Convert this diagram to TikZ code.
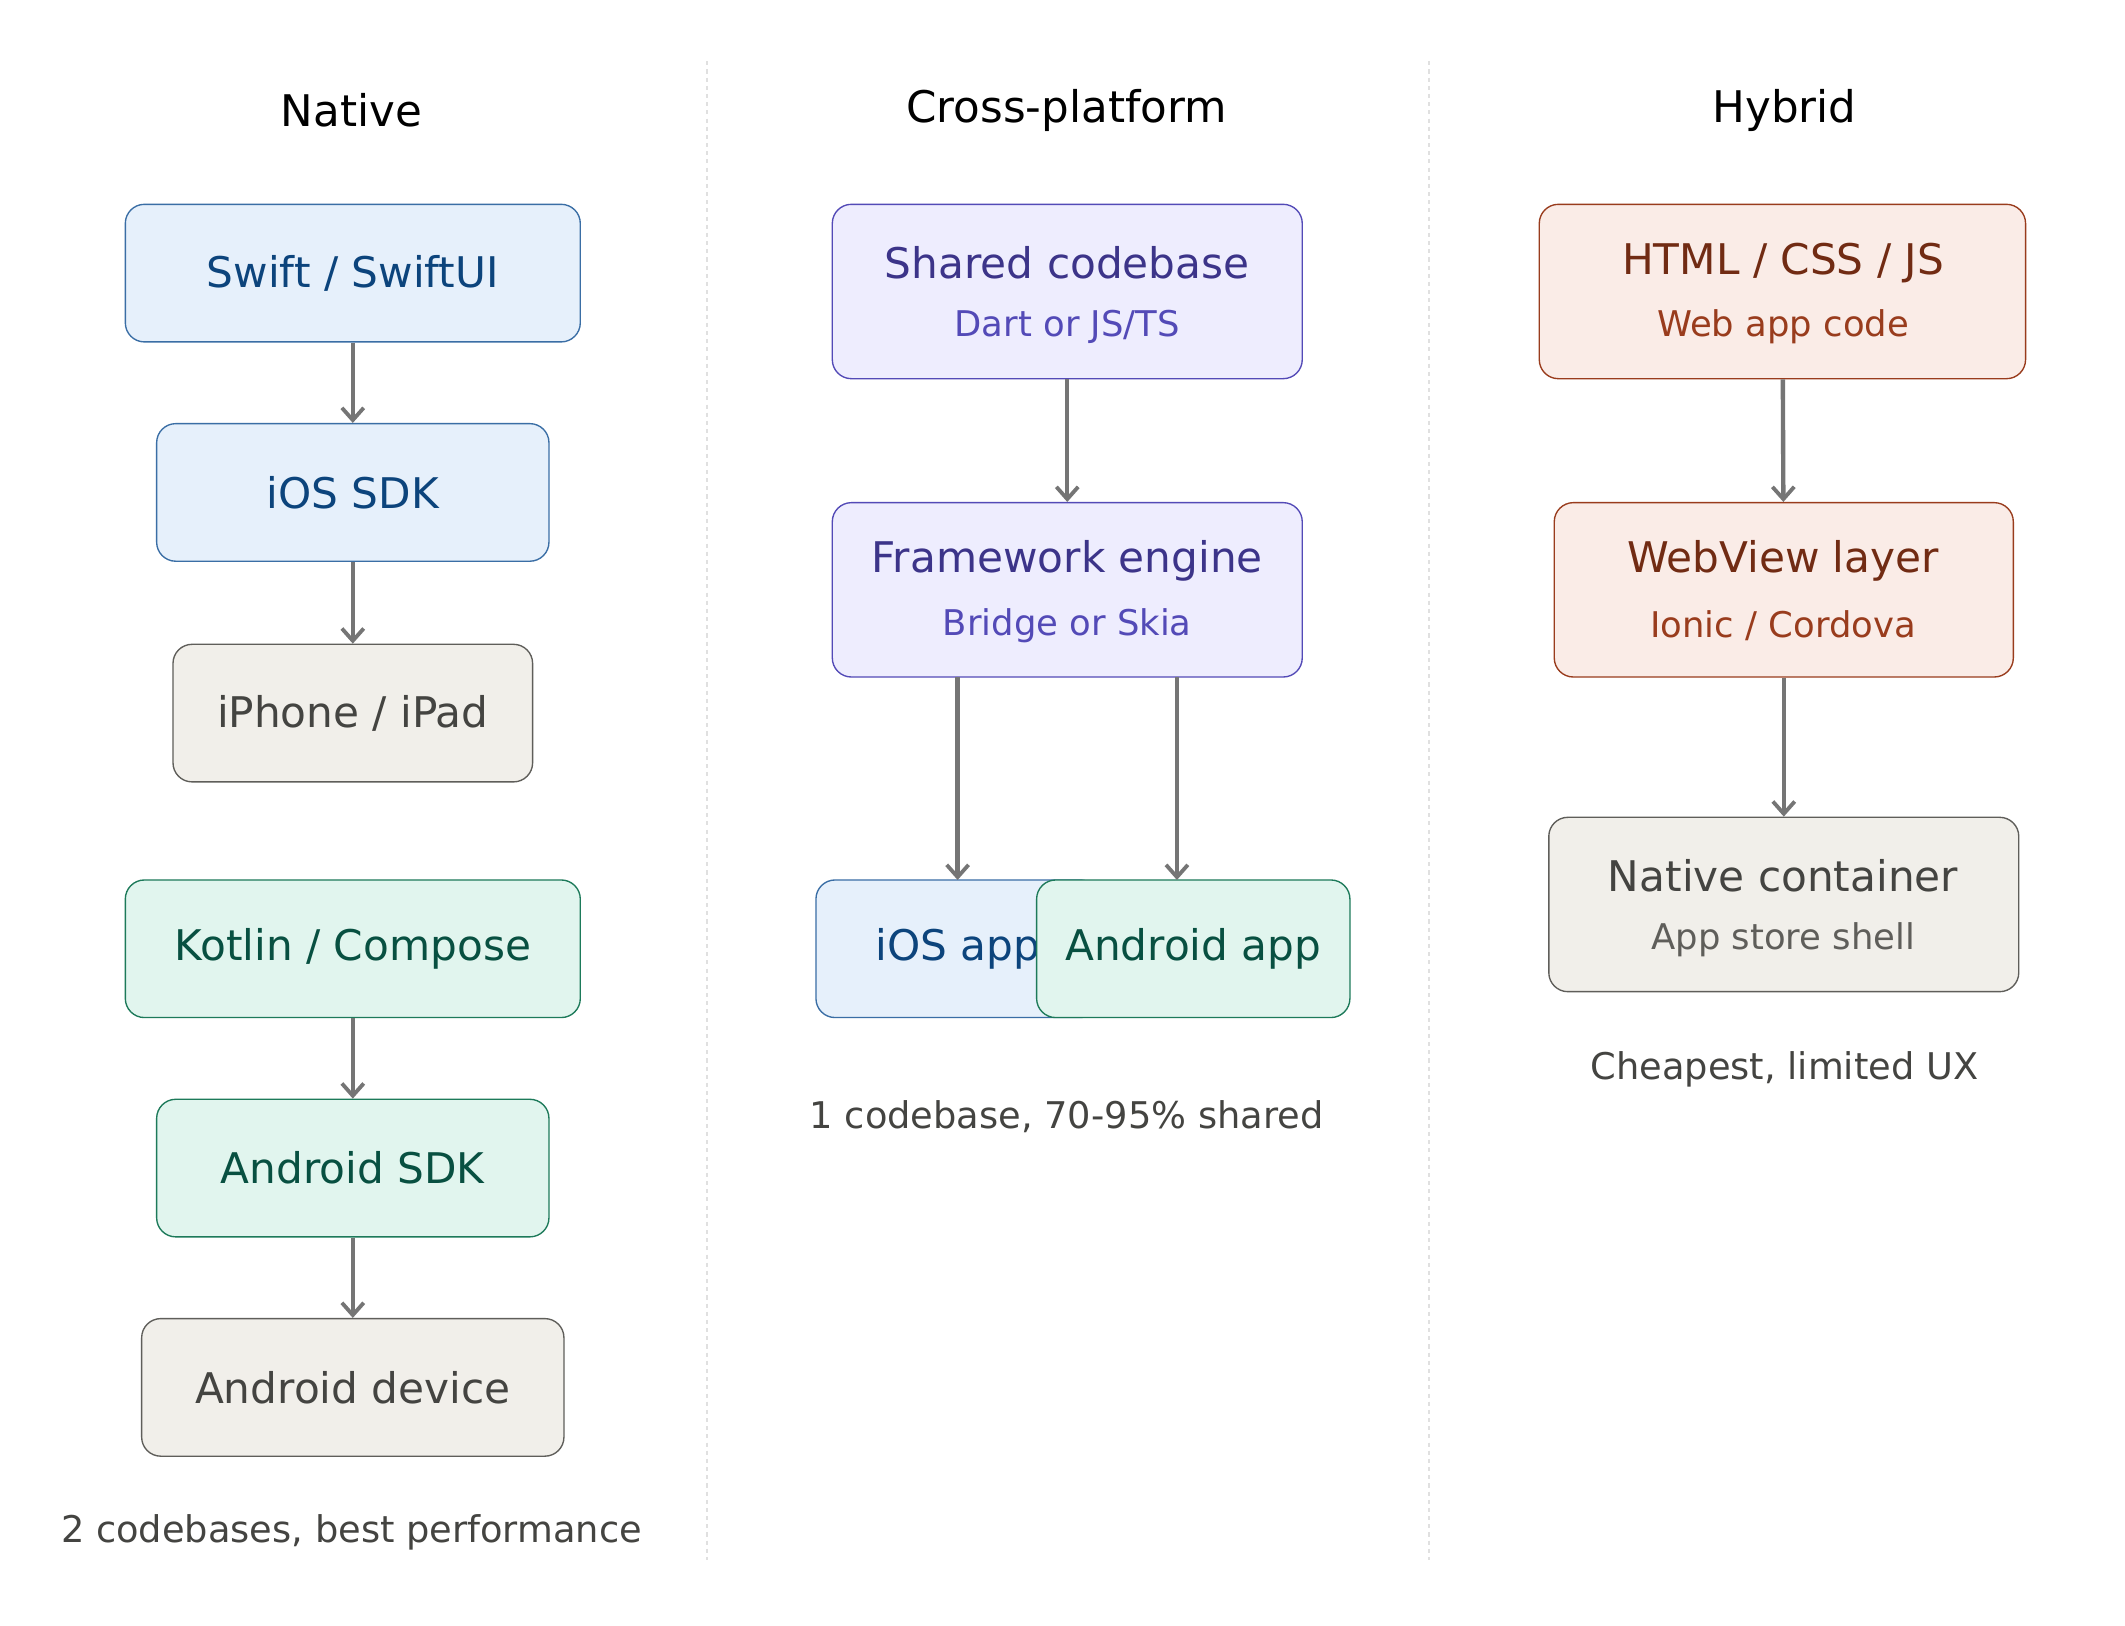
\documentclass[tikz,border=0pt]{standalone}
\usepackage{fontspec}
\setmainfont{DejaVu Sans}
\usetikzlibrary{arrows.meta}
\definecolor{bF}{HTML}{E6F0FB}\definecolor{bD}{HTML}{3A6EA5}\definecolor{bT}{HTML}{0C447C}
\definecolor{gF}{HTML}{E1F5EE}\definecolor{gD}{HTML}{1D7A5A}\definecolor{gT}{HTML}{085041}
\definecolor{nF}{HTML}{F1EFEA}\definecolor{nD}{HTML}{5F5E5A}\definecolor{nT}{HTML}{444441}\definecolor{nS}{HTML}{5F5E5A}
\definecolor{pF}{HTML}{EEEDFE}\definecolor{pD}{HTML}{534AB7}\definecolor{pT}{HTML}{3C3489}\definecolor{pS}{HTML}{534AB7}
\definecolor{cF}{HTML}{FAECE7}\definecolor{cD}{HTML}{993C1D}\definecolor{cT}{HTML}{712B13}\definecolor{cS}{HTML}{993C1D}
\begin{document}
\begin{tikzpicture}[x=1pt,y=-1pt,
  bx/.style={draw,rounded corners=14pt,line width=1pt,inner sep=0pt,align=center,font=\fontsize{31}{36}\selectfont},
  blue/.style={bx,fill=bF,draw=bD,text=bT},
  green/.style={bx,fill=gF,draw=gD,text=gT},
  gray/.style={bx,fill=nF,draw=nD,text=nT},
  purple/.style={bx,fill=pF,draw=pD,text=pT},
  coral/.style={bx,fill=cF,draw=cD,text=cT},
  arr/.style={draw={rgb,255:red,117;green,117;blue,117},line width=3.2pt,-{Straight Barb[length=9pt,width=16pt,line width=2.8pt]}},
  ttl/.style={font=\fontsize{32}{36}\selectfont,text=black},
  m/.style={font=\fontsize{31}{36}\selectfont},
  s/.style={font=\fontsize{26}{30}\selectfont},
  note/.style={font=\fontsize{27}{32}\selectfont,text=nT}]
\useasboundingbox (0,0) rectangle (1560,1193);
\fill[white] (0,0) rectangle (1560,1193);
\draw[dashed,black!12,line width=1pt] (519,45) -- (519,1145);
\draw[dashed,black!12,line width=1pt] (1049,45) -- (1049,1145);
\node[ttl] (t1) at (258,81) {Native};
\node[ttl] (t2) at (783,81) {Cross-platform};
\node[ttl] (t3) at (1310,81) {Hybrid};
% Native
\node[blue,minimum width=334pt,minimum height=101pt] (sw) at (259,200.5) {Swift / SwiftUI};
\node[blue,minimum width=288pt,minimum height=101pt] (isdk) at (259,361.5) {iOS SDK};
\node[gray,minimum width=264pt,minimum height=101pt] (iph) at (259,523.5) {iPhone / iPad};
\node[green,minimum width=334pt,minimum height=101pt] (kt) at (259,696.5) {Kotlin / Compose};
\node[green,minimum width=288pt,minimum height=101pt] (asdk) at (259,857.5) {Android SDK};
\node[gray,minimum width=310pt,minimum height=101pt] (adev) at (259,1018.5) {Android device};
\node[note] (n1) at (258,1125) {2 codebases, best performance};
\draw[arr] (sw) -- (isdk);\draw[arr] (isdk) -- (iph);
\draw[arr] (kt) -- (asdk);\draw[arr] (asdk) -- (adev);
% Cross
\node[purple,minimum width=345pt,minimum height=128pt] (sh) at (783.5,214) {};
\node[m,text=pT] (sh1) at (783.5,193) {Shared codebase};
\node[s,text=pS] (sh2) at (783.5,240) {Dart or JS/TS};
\node[purple,minimum width=345pt,minimum height=128pt] (fw) at (783.5,433) {};
\node[m,text=pT] (fw1) at (783.5,412) {Framework engine};
\node[s,text=pS] (fw2) at (783.5,459) {Bridge or Skia};
\node[blue,minimum width=208pt,minimum height=101pt] (ia) at (703,696.5) {iOS app};
\node[green,minimum width=230pt,minimum height=101pt] (aa) at (876,696.5) {Android app};
\node[note] (n2) at (783,820) {1 codebase, 70-95\% shared};
\draw[arr] (sh) -- (fw);
\draw[arr] (703,497) -- (703,646);
\draw[arr] (864,497) -- (864,646);
% Hybrid
\node[coral,minimum width=357pt,minimum height=128pt] (ht) at (1308.5,214) {};
\node[m,text=cT] (ht1) at (1309,193) {HTML / CSS / JS};
\node[s,text=cS] (ht2) at (1309,240) {Web app code};
\node[coral,minimum width=337pt,minimum height=128pt] (wv) at (1309.5,433) {};
\node[m,text=cT] (wv1) at (1309,412) {WebView layer};
\node[s,text=cS] (wv2) at (1309,459) {Ionic / Cordova};
\node[gray,minimum width=345pt,minimum height=128pt] (nc) at (1309.5,664) {};
\node[m,text=nT] (nc1) at (1309,643) {Native container};
\node[s,text=nS] (nc2) at (1309,690) {App store shell};
\node[note] (n3) at (1310,785) {Cheapest, limited UX};
\draw[arr] (ht) -- (wv);\draw[arr] (wv) -- (nc);
\end{tikzpicture}
\end{document}
